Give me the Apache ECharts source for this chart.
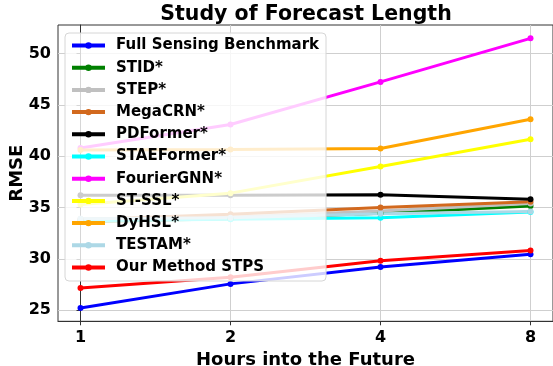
<!DOCTYPE html>
<html>
<head>
<meta charset="utf-8">
<script src="https://cdn.jsdelivr.net/npm/echarts@6/dist/echarts.min.js"></script>
<style>
  html, body { margin: 0; padding: 0; background: #fff; }
  #chart { width: 553px; height: 366px; }
</style>
</head>
<body>
<div id="chart"></div>
<script>
// Forecast horizons (hours) shown on the x axis
const hours = ['1', '2', '4', '8'];
const hourPositions = [0, 1, 2, 3];
const rmseTicks = [25, 30, 35, 40, 45, 50];

// RMSE per method at 1, 2, 4 and 8 hours
const fullSensing = [25.2, 27.55, 29.2, 30.45];
const stid        = [33.6, 33.9, 34.45, 35.15];
const step        = [33.9, 34.05, 34.65, 35.4];
const megacrn     = [33.8, 34.35, 35.0, 35.55];
const pdformer    = [36.2, 36.2, 36.25, 35.8];
const staeformer  = [33.7, 33.85, 34.0, 34.55];
const fouriergnn  = [40.8, 43.1, 47.25, 51.5];
const stssl       = [35.3, 36.4, 39.0, 41.65];
const dyhsl       = [40.6, 40.65, 40.75, 43.6];
const testam      = [33.9, 34.0, 34.4, 34.6];
const stps        = [27.15, 28.2, 29.8, 30.8];

const methods = [
  ['Full Sensing Benchmark', fullSensing, '#0000ff'],
  ['STID*', stid, '#008000'],
  ['STEP*', step, '#c0c0c0'],
  ['MegaCRN*', megacrn, '#d2691e'],
  ['PDFormer*', pdformer, '#000000'],
  ['STAEFormer*', staeformer, '#00ffff'],
  ['FourierGNN*', fouriergnn, '#ff00ff'],
  ['ST-SSL*', stssl, '#ffff00'],
  ['DyHSL*', dyhsl, '#ffa500'],
  ['TESTAM*', testam, '#add8e6'],
  ['Our Method STPS', stps, '#ff0000']
];

const font = 'DejaVu Sans';
const chart = echarts.init(document.getElementById('chart'), null, { renderer: 'canvas' });

chart.setOption({
  animation: false,
  backgroundColor: '#ffffff',
  title: {
    text: 'Study of Forecast Length',
    left: 306, textAlign: 'center',
    top: 4,
    padding: 0,
    textStyle: { fontFamily: font, fontWeight: 'bold', fontSize: 20.5, color: '#000' }
  },
  legend: {
    left: 65, top: 33,
    orient: 'vertical',
    itemWidth: 33, itemHeight: 8, itemGap: 7.2,
    padding: [5, 7, 6, 5],
    backgroundColor: 'rgba(255,255,255,0.8)',
    borderColor: '#d6d6d6', borderWidth: 1, borderRadius: 4,
    lineStyle: { width: 4 },
    textStyle: { fontFamily: font, fontWeight: 'bold', fontSize: 15, color: '#000', padding: [0, 0, 0, 6] },
    data: methods.map(m => m[0])
  },
  grid: {
    left: 58, right: 0, top: 25, bottom: 44.7,
    outerBoundsMode: 'none',
    containLabel: false,
    show: true, borderColor: '#333', borderWidth: 1
  },
  xAxis: {
    type: 'value', min: -0.15, max: 3.15,
    name: 'Hours into the Future', nameLocation: 'middle', nameGap: 30,
    nameMoveOverlap: false,
    nameTextStyle: { fontFamily: font, fontWeight: 'bold', fontSize: 18, color: '#000' },
    axisLine: { show: true, lineStyle: { color: '#333', width: 1 } },
    axisTick: { show: true, length: 4, customValues: hourPositions, lineStyle: { color: '#333' } },
    axisLabel: {
      customValues: hourPositions, margin: 9,
      formatter: v => hours[Math.round(v)],
      fontFamily: font, fontWeight: 'bold', fontSize: 16, color: '#000'
    },
    splitLine: { show: true, lineStyle: { color: '#cfcfcf', width: 1 } }
  },
  yAxis: {
    type: 'value', min: 23.9, max: 52.8,
    name: 'RMSE', nameLocation: 'middle', nameGap: 32, nameRotate: 90,
    nameMoveOverlap: false,
    nameTextStyle: { fontFamily: font, fontWeight: 'bold', fontSize: 18, color: '#000' },
    axisLine: { show: true, lineStyle: { color: '#333', width: 1 } },
    axisTick: { show: true, length: 4, customValues: rmseTicks, lineStyle: { color: '#333' } },
    axisLabel: {
      customValues: rmseTicks, margin: 7,
      fontFamily: font, fontWeight: 'bold', fontSize: 16, color: '#000'
    },
    splitLine: { show: true, lineStyle: { color: '#cfcfcf', width: 1 } }
  },
  series: methods.map(([name, vals, color]) => ({
    name, type: 'line',
    data: vals.map((v, i) => [hourPositions[i], v]),
    color,
    symbol: 'circle', symbolSize: 6,
    lineStyle: { width: 3, color },
    itemStyle: { color },
    emphasis: { disabled: true }
  }))
});
</script>
</body>
</html>
